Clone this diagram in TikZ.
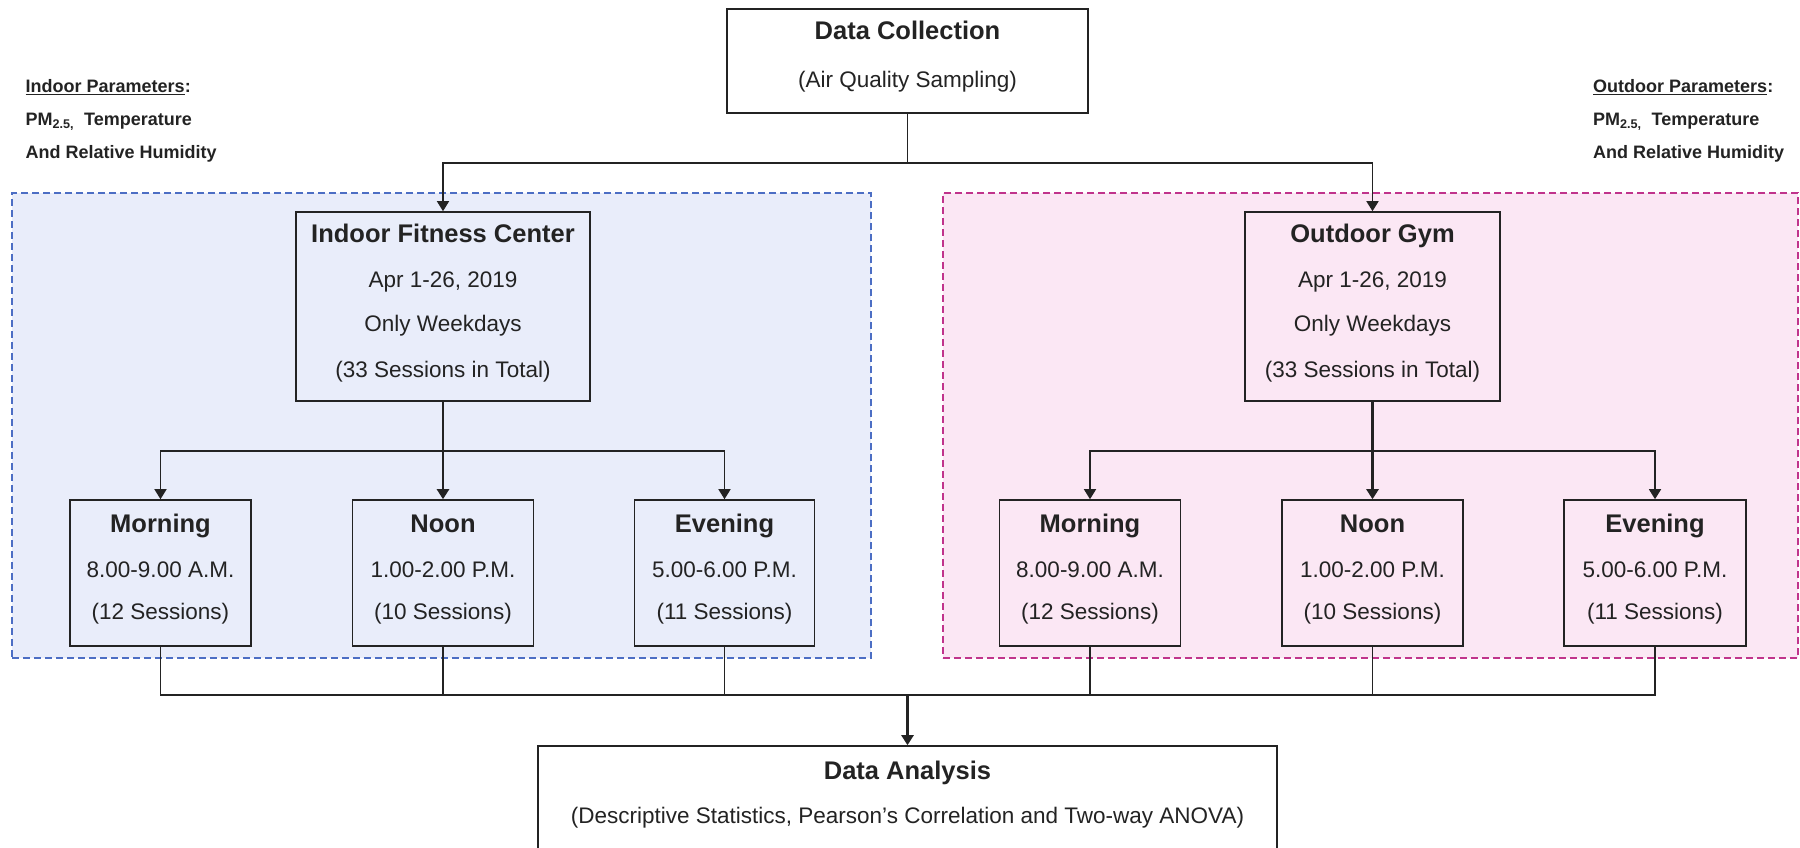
\documentclass[tikz,border=0pt]{standalone}
\usepackage{fontspec}
\setmainfont{Liberation Sans}
\usetikzlibrary{arrows.meta}
\definecolor{bluefill}{RGB}{233,237,250}
\definecolor{blueedge}{RGB}{76,110,196}
\definecolor{pinkfill}{RGB}{251,231,244}
\definecolor{pinkedge}{RGB}{192,52,140}
\definecolor{ink}{RGB}{35,35,35}
\tikzset{
  boxst/.style={draw=ink, line width=1.6pt, rectangle, inner sep=0pt},
  zone/.style={line width=2pt, dash pattern=on 7pt off 4pt, rectangle, inner sep=0pt},
  ttl/.style={font=\fontsize{25.5}{30}\selectfont\bfseries, inner sep=0pt, text height=0.74em, text depth=0.2em, text=ink},
  txt/.style={font=\fontsize{22.5}{27}\selectfont, inner sep=0pt, text height=0.74em, text depth=0.2em, text=ink},
  side/.style={font=\fontsize{18}{21}\selectfont\bfseries, inner sep=0pt, anchor=west, text height=0.74em, text depth=0.2em, text=ink},
  conn/.style={draw=ink, line width=1.5pt},
  trunk/.style={draw=ink, line width=2.4pt},
  arr/.style={-{Triangle[width=12pt,length=10pt]}}
}
\begin{document}
\begin{tikzpicture}[x=1pt, y={(0pt,-1pt)}]
\useasboundingbox (0,0) rectangle (1800,847);
\fill[white] (0,0) rectangle (1800,847);

% zones
\node[zone, draw=blueedge, fill=bluefill, minimum width=859pt, minimum height=465pt] (inzone) at (441.5,425.5) {};
\node[zone, draw=pinkedge, fill=pinkfill, minimum width=855pt, minimum height=465pt] (outzone) at (1370.5,425.5) {};

% side labels
\node[side] (inp1) at (25.5,90) {\underline{Indoor Parameters}:};
\node[side] (inp2) at (25.5,123) {PM\textsubscript{2.5,}\ \ Temperature};
\node[side] (inp3) at (25.5,156) {And Relative Humidity};
\node[side] (outp1) at (1593,90) {\underline{Outdoor Parameters}:};
\node[side] (outp2) at (1593,123) {PM\textsubscript{2.5,}\ \ Temperature};
\node[side] (outp3) at (1593,156) {And Relative Humidity};

% Data Collection
\node[boxst, fill=white, minimum width=361pt, minimum height=104pt] (dc) at (907.5,61) {};
\node[ttl] (dct1) at (907.5,37) {Data Collection};
\node[txt] (dct2) at (907.5,85) {(Air Quality Sampling)};

% Indoor main
\node[boxst, fill=bluefill, minimum width=294pt, minimum height=189pt] (indoor) at (443,306.5) {};
\node[ttl] (indt1) at (443,240) {Indoor Fitness Center};
\node[txt] (indt2) at (443,285) {Apr 1-26, 2019};
\node[txt] (indt3) at (443,329) {Only Weekdays};
\node[txt] (indt4) at (443,375) {(33 Sessions in Total)};

% Outdoor main
\node[boxst, fill=pinkfill, minimum width=255pt, minimum height=189pt] (outdoor) at (1372.5,306.5) {};
\node[ttl] (outt1) at (1372.5,240) {Outdoor Gym};
\node[txt] (outt2) at (1372.5,285) {Apr 1-26, 2019};
\node[txt] (outt3) at (1372.5,329) {Only Weekdays};
\node[txt] (outt4) at (1372.5,375) {(33 Sessions in Total)};

% Indoor sessions
\node[boxst, fill=bluefill, minimum width=181pt, minimum height=146pt] (imorn) at (160.5,573) {};
\node[ttl] (imt1) at (160.5,530) {Morning};
\node[txt] (imt2) at (160.5,575) {8.00-9.00 A.M.};
\node[txt] (imt3) at (160.5,617) {(12 Sessions)};
\node[boxst, fill=bluefill, minimum width=181pt, minimum height=146pt] (inoon) at (443,573) {};
\node[ttl] (int1) at (443,530) {Noon};
\node[txt] (int2) at (443,575) {1.00-2.00 P.M.};
\node[txt] (int3) at (443,617) {(10 Sessions)};
\node[boxst, fill=bluefill, minimum width=180pt, minimum height=146pt] (ieve) at (724.5,573) {};
\node[ttl] (iet1) at (724.5,530) {Evening};
\node[txt] (iet2) at (724.5,575) {5.00-6.00 P.M.};
\node[txt] (iet3) at (724.5,617) {(11 Sessions)};

% Outdoor sessions
\node[boxst, fill=pinkfill, minimum width=181pt, minimum height=146pt] (omorn) at (1090,573) {};
\node[ttl] (omt1) at (1090,530) {Morning};
\node[txt] (omt2) at (1090,575) {8.00-9.00 A.M.};
\node[txt] (omt3) at (1090,617) {(12 Sessions)};
\node[boxst, fill=pinkfill, minimum width=181pt, minimum height=146pt] (onoon) at (1372.5,573) {};
\node[ttl] (ont1) at (1372.5,530) {Noon};
\node[txt] (ont2) at (1372.5,575) {1.00-2.00 P.M.};
\node[txt] (ont3) at (1372.5,617) {(10 Sessions)};
\node[boxst, fill=pinkfill, minimum width=182pt, minimum height=146pt] (oeve) at (1655,573) {};
\node[ttl] (oet1) at (1655,530) {Evening};
\node[txt] (oet2) at (1655,575) {5.00-6.00 P.M.};
\node[txt] (oet3) at (1655,617) {(11 Sessions)};

% Data Analysis
\node[boxst, fill=white, minimum width=739pt, minimum height=110pt] (da) at (907.5,801) {};
\node[ttl] (dat1) at (907.5,777) {Data Analysis};
\node[txt] (dat2) at (907.5,821) {(Descriptive Statistics, Pearson’s Correlation and Two-way ANOVA)};

% connectors top
\coordinate (topj) at (907.5,163);
\draw[conn] (dc.south) -- (topj);
\draw[conn, arr] (topj) -| (indoor.north);
\draw[conn, arr] (topj) -| (outdoor.north);

% indoor branches
\coordinate (ij) at (443,451);
\draw[trunk, arr] (indoor.south) -- (inoon.north);
\draw[conn, arr] (ij) -| (imorn.north);
\draw[conn, arr] (ij) -| (ieve.north);

% outdoor branches
\coordinate (oj) at (1372.5,451);
\draw[trunk, arr] (outdoor.south) -- (onoon.north);
\draw[conn, arr] (oj) -| (omorn.north);
\draw[conn, arr] (oj) -| (oeve.north);

% bottom collection
\coordinate (bj) at (907.5,695);
\draw[conn] (imorn.south) |- (bj);
\draw[conn] (inoon.south) |- (bj);
\draw[conn] (ieve.south) |- (bj);
\draw[conn] (omorn.south) |- (bj);
\draw[conn] (onoon.south) |- (bj);
\draw[conn] (oeve.south) |- (bj);
\draw[trunk, arr] (bj) -- (da.north);
\end{tikzpicture}
\end{document}
